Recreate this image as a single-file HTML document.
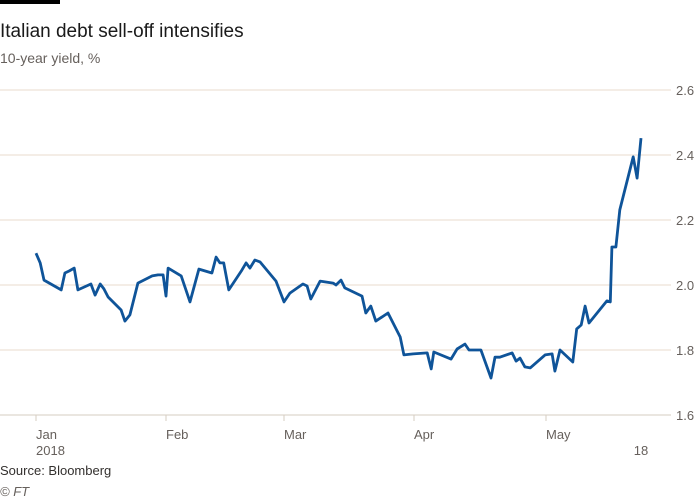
<!DOCTYPE html>
<html><head><meta charset="utf-8"><style>
body{margin:0;background:#fff;width:700px;height:500px;overflow:hidden;font-family:"Liberation Sans",sans-serif}
svg{position:absolute;left:0;top:0}
</style></head><body>
<svg width="700" height="500">
<rect x="0" y="0" width="60" height="4" fill="#000"/>
<text x="0" y="37" font-size="19" fill="#1a1a1a">Italian debt sell-off intensifies</text>
<text x="0" y="63" font-size="14" fill="#66605c">10-year yield, %</text>
<g id="grid"></g><g id="xaxis"></g>
<path id="line" fill="none" stroke="#0f5499" stroke-width="2.8" stroke-linejoin="round"/>
<text x="0" y="475" font-size="13" fill="#33302e">Source: Bloomberg</text>
<text x="0" y="496" font-size="13" font-style="italic" fill="#66605c">© FT</text>
</svg>
<script>
const days=[0,1,1.9,6,6.9,7.9,9.1,10,13.1,14.1,15.3,16.2,17.2,20.3,21.2,22.4,24.3,27.7,29.1,30.3,31,31.5,34.6,36.7,38.8,41.9,42.9,43.8,44.7,45.9,49,50,50.9,52.1,53.3,57.1,59,60.4,63.5,64.5,65.4,67.6,70.7,71.4,72.6,73.5,77.6,78.5,79.7,80.9,83.8,86.7,87.6,89.8,93,93.9,94.5,98.4,99.8,101.6,102.5,105.2,107.5,108.4,109.5,112.3,113.2,114.1,115.2,116.4,119.8,121.1,121.6,122.5,124.8,125.5,126.3,127,127.7,130.9,131.5,131.8,132.5,133.2,135.6,136.3,137];
const yields=[2.098,2.068,2.015,1.985,2.037,2.043,2.052,1.985,2.003,1.969,2.003,1.988,1.963,1.923,1.889,1.908,2.006,2.028,2.031,2.031,1.966,2.052,2.028,1.948,2.049,2.037,2.086,2.068,2.068,1.985,2.046,2.068,2.052,2.077,2.071,2.012,1.948,1.975,2.003,1.997,1.957,2.012,2.006,2.000,2.015,1.991,1.966,1.914,1.935,1.889,1.914,1.840,1.785,1.788,1.791,1.742,1.794,1.772,1.803,1.818,1.800,1.800,1.714,1.778,1.778,1.791,1.766,1.775,1.748,1.745,1.785,1.788,1.735,1.800,1.763,1.865,1.877,1.935,1.883,1.951,1.948,2.117,2.117,2.231,2.394,2.329,2.452];
const yTicks=[1.6,1.8,2.0,2.2,2.4,2.6];
const yTickLabels=["1.6","1.8","2.0","2.2","2.4","2.6"];
const xTickDays=[0,31,59,90,120,137];
const xTickLabels=["Jan","Feb","Mar","Apr","May","18"];
const xTickSub=["2018","","","","",""];
const xPix=[36,166,284,414,546,641];
function xs(d){for(let i=0;i<xTickDays.length-1;i++){if(d<=xTickDays[i+1]||i==xTickDays.length-2){return xPix[i]+(d-xTickDays[i])*(xPix[i+1]-xPix[i])/(xTickDays[i+1]-xTickDays[i]);}}}
function ys(v){return 415-(v-1.6)*325;}
const NS="http://www.w3.org/2000/svg";
const grid=document.getElementById('grid');
yTicks.forEach((t,i)=>{
 const l=document.createElementNS(NS,'line');
 l.setAttribute('x1',0);l.setAttribute('x2',671);l.setAttribute('y1',ys(t));l.setAttribute('y2',ys(t));
 l.setAttribute('stroke',i==0?'#d6ccc2':'#eadbcc');l.setAttribute('stroke-width',1);
 
 
 grid.appendChild(l);
 const tx=document.createElementNS(NS,'text');
 tx.setAttribute('x',676);tx.setAttribute('y',ys(t)+5);tx.setAttribute('font-size',13);tx.setAttribute('fill','#66605c');
 tx.textContent=yTickLabels[i];
 
 
 grid.appendChild(tx);
});
const xa=document.getElementById('xaxis');
xTickDays.forEach((d,i)=>{
 const x=xs(d);
 if(i<xTickDays.length-1){
 const l=document.createElementNS(NS,'line');
 l.setAttribute('x1',x);l.setAttribute('x2',x);l.setAttribute('y1',415);l.setAttribute('y2',421);l.setAttribute('stroke','#d6ccc2');
 
 
 xa.appendChild(l);}
 const t=document.createElementNS(NS,'text');
 const last=i==xTickDays.length-1;
 t.setAttribute('x',x);t.setAttribute('y',last?455:439);t.setAttribute('font-size',13);t.setAttribute('fill','#66605c');
 if(last)t.setAttribute('text-anchor','middle');
 t.textContent=xTickLabels[i];
 
 
 xa.appendChild(t);
 if(xTickSub[i]){const s=document.createElementNS(NS,'text');
 s.setAttribute('x',x);s.setAttribute('y',455);s.setAttribute('font-size',13);s.setAttribute('fill','#66605c');
 s.textContent=xTickSub[i];
 
 
 xa.appendChild(s);}
});
document.getElementById('line').setAttribute('d',days.map((d,i)=>(i?'L':'M')+xs(d).toFixed(1)+','+ys(yields[i]).toFixed(1)).join(''));
</script>
</body></html>
